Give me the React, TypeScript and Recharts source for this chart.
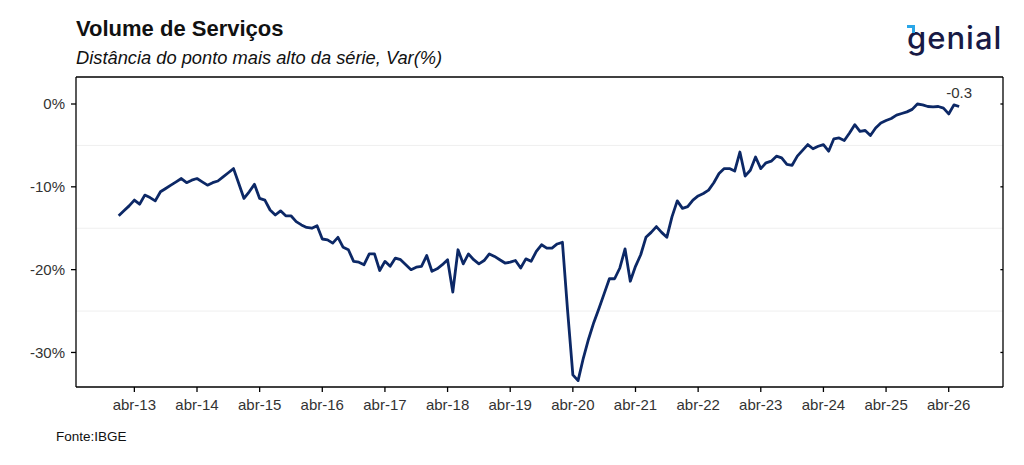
import React from "react";
import { LineChart, Line, XAxis, YAxis, ReferenceLine, LabelList } from "recharts";

const FONT = '"Liberation Sans", Arial, sans-serif';

// distância do ponto mais alto, % (mensal, jan-13 em diante)
const v2013 = [-13.5, -12.9, -12.3, -11.6, -12.1, -11.0, -11.3, -11.7, -10.6, -10.2, -9.8, -9.4];
const v2014 = [-9.0, -9.5, -9.2, -9.0, -9.4, -9.8, -9.5, -9.3, -8.8, -8.3, -7.8, -9.6];
const v2015 = [-11.4, -10.6, -9.7, -11.4, -11.6, -12.8, -13.4, -12.9, -13.5, -13.5, -14.2, -14.6];
const v2016 = [-14.9, -15.0, -14.7, -16.3, -16.4, -16.8, -16.1, -17.3, -17.6, -19.0, -19.1, -19.4];
const v2017 = [-18.1, -18.1, -20.1, -19.0, -19.6, -18.6, -18.8, -19.4, -20.0, -19.7, -19.6, -18.3];
const v2018 = [-20.2, -19.9, -19.4, -18.8, -22.7, -17.6, -19.3, -18.1, -18.8, -19.3, -18.9, -18.1];
const v2019 = [-18.4, -18.8, -19.2, -19.1, -18.9, -19.8, -18.7, -19.0, -17.8, -17.0, -17.4, -17.4];
const v2020 = [-16.9, -16.7, -25.0, -32.7, -33.4, -30.7, -28.4, -26.4, -24.7, -22.9, -21.1, -21.1];
const v2021 = [-19.8, -17.5, -21.4, -19.6, -18.2, -16.1, -15.5, -14.8, -15.5, -16.1, -13.6, -11.7];
const v2022 = [-12.6, -12.4, -11.6, -11.1, -10.8, -10.4, -9.5, -8.4, -7.8, -7.8, -8.1, -5.8];
const v2023 = [-8.7, -8.0, -6.4, -7.8, -7.1, -6.9, -6.3, -6.5, -7.3, -7.4, -6.3, -5.6];
const v2024 = [-4.9, -5.4, -5.1, -4.9, -5.7, -4.2, -4.1, -4.4, -3.5, -2.5, -3.3, -3.2];
const v2025 = [-3.8, -2.9, -2.3, -2.0, -1.75, -1.35, -1.15, -0.95, -0.65, 0.0, -0.1, -0.3];
const v2026 = [-0.35, -0.3, -0.5, -1.2, -0.1, -0.3];

const mesesAbrev = ["jan", "fev", "mar", "abr", "mai", "jun", "jul", "ago", "set", "out", "nov", "dez"];
const anoInicial = 2013;

const tickLabels = [
  "abr-13", "abr-14", "abr-15", "abr-16", "abr-17", "abr-18", "abr-19",
  "abr-20", "abr-21", "abr-22", "abr-23", "abr-24", "abr-25", "abr-26",
];
const yTicks = [0, -10, -20, -30];
const gridMinor = [-5, -15, -25];

const valores = [
  ...v2013, ...v2014, ...v2015, ...v2016, ...v2017, ...v2018, ...v2019,
  ...v2020, ...v2021, ...v2022, ...v2023, ...v2024, ...v2025, ...v2026,
];

const data = valores.map((v, i) => ({
  idx: i,
  mes: `${mesesAbrev[i % 12]}-${String((anoInicial + Math.floor(i / 12)) % 100).padStart(2, "0")}`,
  valor: v,
  rotulo: i === valores.length - 1 ? v.toFixed(1) : null,
}));

// abr = mês 3 de cada ano
const xTicks = tickLabels.map((_, k) => 3 + 12 * k);
const labelOf = (i: number) => data[i]?.mes ?? "";

const X_DOMAIN: [number, number] = [-8.18, 169.4];
const Y_DOMAIN: [number, number] = [-34.17, 3.26];
const LINE_COLOR = "#0c2866";
const BORDER = { stroke: "#000", strokeWidth: 1.3 };

export default function App() {
  return (
    <div
      style={{
        position: "absolute",
        left: 0,
        top: 0,
        width: 1024,
        height: 465,
        background: "#fff",
        fontFamily: FONT,
        overflow: "hidden",
      }}
    >
      <div style={{ position: "absolute", left: 76, top: 17.5, fontSize: 22, fontWeight: 700, lineHeight: 1, color: "#111" }}>
        Volume de Serviços
      </div>
      <div style={{ position: "absolute", left: 76, top: 48.5, fontSize: 18.3, fontStyle: "italic", lineHeight: 1, color: "#111" }}>
        Distância do ponto mais alto da série, Var(%)
      </div>

      {/* logo */}
      <div
        style={{
          position: "absolute",
          left: 907,
          top: 21.5,
          fontFamily: "Inter, sans-serif",
          fontSize: 31,
          fontWeight: 500,
          lineHeight: 1,
          letterSpacing: 1,
          color: "#181a45",
        }}
      >
        genial
      </div>
      <div
        style={{
          position: "absolute",
          left: 907,
          top: 25,
          width: 5,
          height: 5,
          borderTop: "3px solid #29a6e8",
          borderRight: "3px solid #29a6e8",
        }}
      />

      <div style={{ position: "absolute", left: 0, top: 0 }}>
        <LineChart width={1024} height={465} data={data} margin={{ top: 77, right: 21, bottom: 48, left: 0 }}>
          <XAxis
            xAxisId="b"
            dataKey="idx"
            type="number"
            domain={X_DOMAIN}
            allowDataOverflow
            ticks={xTicks}
            interval={0}
            tickFormatter={labelOf}
            height={30}
            tickSize={5}
            tickMargin={7}
            tick={{ fontSize: 15, fill: "#333", fontFamily: FONT }}
            axisLine={BORDER}
            tickLine={BORDER}
          />
          <YAxis
            yAxisId="l"
            type="number"
            domain={Y_DOMAIN}
            allowDataOverflow
            ticks={yTicks}
            interval={0}
            tickFormatter={(v: number) => `${v}%`}
            width={76}
            tickSize={5}
            tickMargin={6}
            tick={{ fontSize: 15, fill: "#333", fontFamily: FONT }}
            axisLine={BORDER}
            tickLine={BORDER}
          />
          {gridMinor.map((g) => (
            <ReferenceLine key={g} xAxisId="b" yAxisId="l" y={g} stroke="#efefef" strokeWidth={1} />
          ))}
          {/* moldura superior e direita */}
          <ReferenceLine xAxisId="b" yAxisId="l" y={Y_DOMAIN[1]} {...BORDER} />
          <ReferenceLine xAxisId="b" yAxisId="l" x={X_DOMAIN[1]} {...BORDER} />
          {yTicks.map((t) => (
            <ReferenceLine
              key={`rt${t}`}
              xAxisId="b"
              yAxisId="l"
              segment={[{ x: X_DOMAIN[1] - 0.5, y: t }, { x: X_DOMAIN[1], y: t }]}
              {...BORDER}
            />
          ))}
          <Line
            xAxisId="b"
            yAxisId="l"
            type="linear"
            dataKey="valor"
            stroke={LINE_COLOR}
            strokeWidth={2.8}
            strokeLinejoin="round"
            dot={false}
            activeDot={false}
            isAnimationActive={false}
          >
            <LabelList
              dataKey="rotulo"
              content={(p: any) =>
                p.value == null ? null : (
                  <text x={p.x} y={p.y - 8} textAnchor="middle" fontSize={15} fill="#333" fontFamily={FONT}>
                    {p.value}
                  </text>
                )
              }
            />
          </Line>
        </LineChart>
      </div>

      <div style={{ position: "absolute", left: 56, top: 430, fontSize: 13.5, lineHeight: 1, color: "#111" }}>
        Fonte:IBGE
      </div>
    </div>
  );
}
